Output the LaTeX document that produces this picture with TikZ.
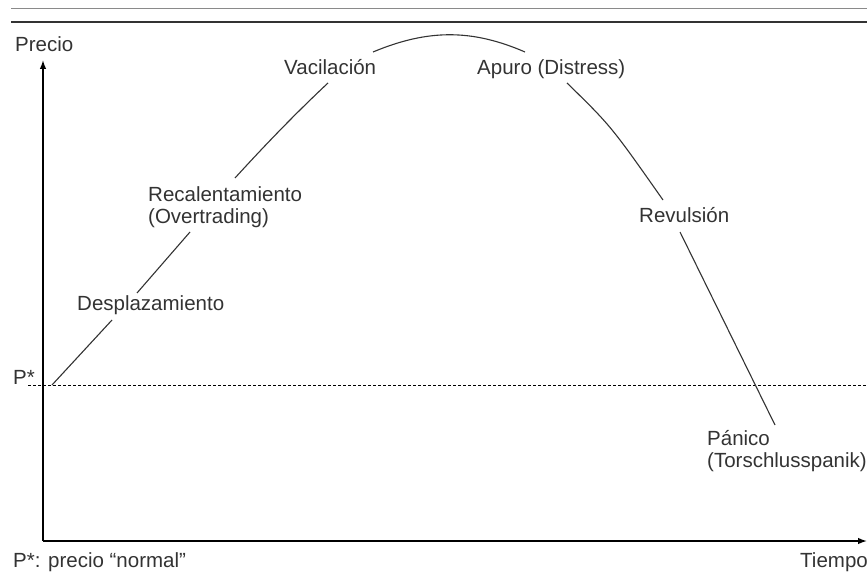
\documentclass[tikz,border=0pt]{standalone}
\usepackage{fontspec}
\setmainfont{Liberation Sans}
\usetikzlibrary{arrows.meta}
\definecolor{ink}{HTML}{333333}
\definecolor{rule}{HTML}{8A8A8A}
\begin{document}
\begin{tikzpicture}[x=1bp,y=-1bp,
  lbl/.style={inner sep=0pt,anchor=base west,text=ink,font=\fontsize{20.5bp}{22bp}\selectfont},
  axis/.style={line width=1.4bp,draw=black,-{Latex[length=9bp,width=6.5bp]}},
  curve/.style={line width=1.1bp,draw=ink},
  level/.style={line width=0.9bp,draw=black,dash pattern=on 3bp off 2bp}]
\useasboundingbox (0,0) rectangle (867,583);

% header rules
\draw[rule,line width=0.8bp] (11,8) -- (867,8);
\draw[ink,line width=1.6bp] (11,22) -- (867,22);

% axes
\coordinate (O) at (43,541);
\coordinate (ytip) at (43,60);
\coordinate (xtip) at (867,541);
\draw[axis] (O) -- (ytip);
\draw[axis] (O) -- (xtip);

% normal price level
\coordinate (lvlL) at (28,385);
\coordinate (lvlR) at (867,385);
\draw[level] (lvlL) -- (lvlR);

% price path, broken where the stage names sit
\draw[curve] (52,385) -- (112,320);
\draw[curve] (137,293) -- (190,232);
\draw[curve] (235,178) .. controls (266,144) and (297,112) .. (328,83);
\draw[curve] (373,52) .. controls (428,29) and (472,29) .. (525,52);
\draw[curve] (567,83) .. controls (611,126) .. (663,200);
\draw[curve] (680,232) -- (775,425);

% labels
\node[lbl] (precio) at (15,52) {Precio};
\node[lbl] (tiempo) at (800,567) {Tiempo};
\node[lbl] (pstar) at (13,384) {P*};
\node[lbl] (nota) at (13,567) {P*: precio “normal”};
\node[lbl] (despl) at (77,310) {Desplazamiento};
\node[lbl] (recal) at (148,202) {Recalentamiento};
\node[lbl] (overt) at (148,224) {(Overtrading)};
\node[lbl] (vacil) at (284,75) {Vacilación};
\node[lbl] (apuro) at (477,75) {Apuro (Distress)};
\node[lbl] (revul) at (639,223) {Revulsión};
\node[lbl] (panic) at (707,445) {Pánico};
\node[lbl] (torsc) at (707,467) {(Torschlusspanik)};
\end{tikzpicture}
\end{document}
